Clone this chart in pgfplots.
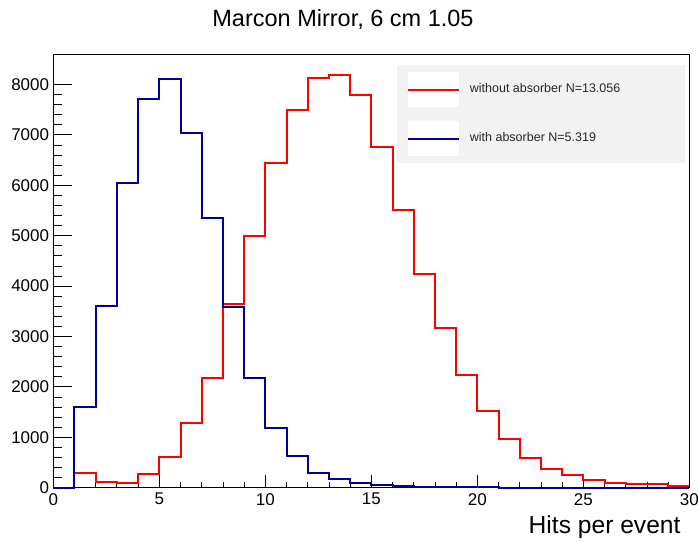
\documentclass[border=0pt]{standalone}
\usepackage{pgfplots}
\pgfplotsset{compat=1.18}
\usepackage{fontspec}
\setmainfont{Liberation Sans}
\definecolor{rootred}{RGB}{255,0,0}
\definecolor{rootblue}{RGB}{0,0,153}
\definecolor{legbg}{RGB}{242,242,242}
\begin{document}
\begin{tikzpicture}
\useasboundingbox (-53.3pt,-53.3pt) rectangle (645.7pt,487.7pt);
\fill[legbg] (343.7pt,325pt) rectangle (631.7pt,422.7pt);
\begin{axis}[
  at={(0pt,0pt)}, anchor=south west,
  scale only axis, width=636pt, height=433pt,
  xmin=0, xmax=30, ymin=0, ymax=8590,
  clip=false,
  xtick={0,5,...,30}, ytick={0,1000,...,8000},
  minor x tick num=4, minor y tick num=4,
  tick pos=left, tick align=inside,
  axis line style={line width=0.8pt, black},
  xtick style={line width=0.8pt, black, /pgfplots/major tick length=13pt, /pgfplots/minor tick length=6pt},
  ytick style={line width=0.8pt, black, /pgfplots/major tick length=19pt, /pgfplots/minor tick length=9pt},
  scaled y ticks=false,
  /pgf/number format/assume math mode=true,
  /pgf/number format/1000 sep={},
  xticklabel style={font=\fontsize{17}{17}\selectfont, anchor=north, inner sep=0pt, yshift=-5.3pt},
  yticklabel style={font=\fontsize{17}{17}\selectfont, anchor=east, inner sep=0pt, xshift=-4pt},
  legend style={at={(353.7pt,415.7pt)}, anchor=north west, fill=none, draw=none,
    inner sep=0pt, row sep=14.3pt, column sep=10pt,
    font=\fontsize{12.5}{12.5}\selectfont, text=black!85,
    nodes={inner sep=0pt, anchor=base west}},
  legend cell align=left,
  legend image code/.code={
    \fill[white,draw=none] (0pt,-14pt) rectangle (50.7pt,20.7pt);
    \draw[#1] (0pt,3.3pt) -- (50.7pt,3.3pt);
  },
]
\addplot[const plot mark left, rootred, line width=2pt] coordinates {
(0,0) (1,285) (2,112) (3,99) (4,277) (5,615) (6,1290) (7,2180) (8,3645) (9,5000)
(10,6435) (11,7490) (12,8130) (13,8185) (14,7790) (15,6750) (16,5500) (17,4230) (18,3160) (19,2245)
(20,1520) (21,965) (22,588) (23,364) (24,258) (25,152) (26,92) (27,73) (28,66) (29,40) (30,40)
};
\addlegendentry{without absorber N=13.056}
\addplot[const plot mark left, rootblue, line width=2pt] coordinates {
(0,0) (1,1600) (2,3600) (3,6040) (4,7720) (5,8110) (6,7030) (7,5350) (8,3580) (9,2170)
(10,1190) (11,635) (12,300) (13,165) (14,86) (15,53) (16,33) (17,20) (18,12) (19,7)
(20,5) (21,3) (22,2) (23,1) (24,1) (25,0) (26,0) (27,0) (28,0) (29,0) (30,0)
};
\addlegendentry{with absorber N=5.319}
\end{axis}
\node[anchor=base, inner sep=0pt, font=\fontsize{23.5}{23.5}\selectfont] at (289.7pt,461pt) {Marcon Mirror, 6 cm 1.05};
\node[anchor=base east, inner sep=0pt, font=\fontsize{24.6}{24.6}\selectfont] at (627.4pt,-45.3pt) {Hits per event};
\end{tikzpicture}
\end{document}
